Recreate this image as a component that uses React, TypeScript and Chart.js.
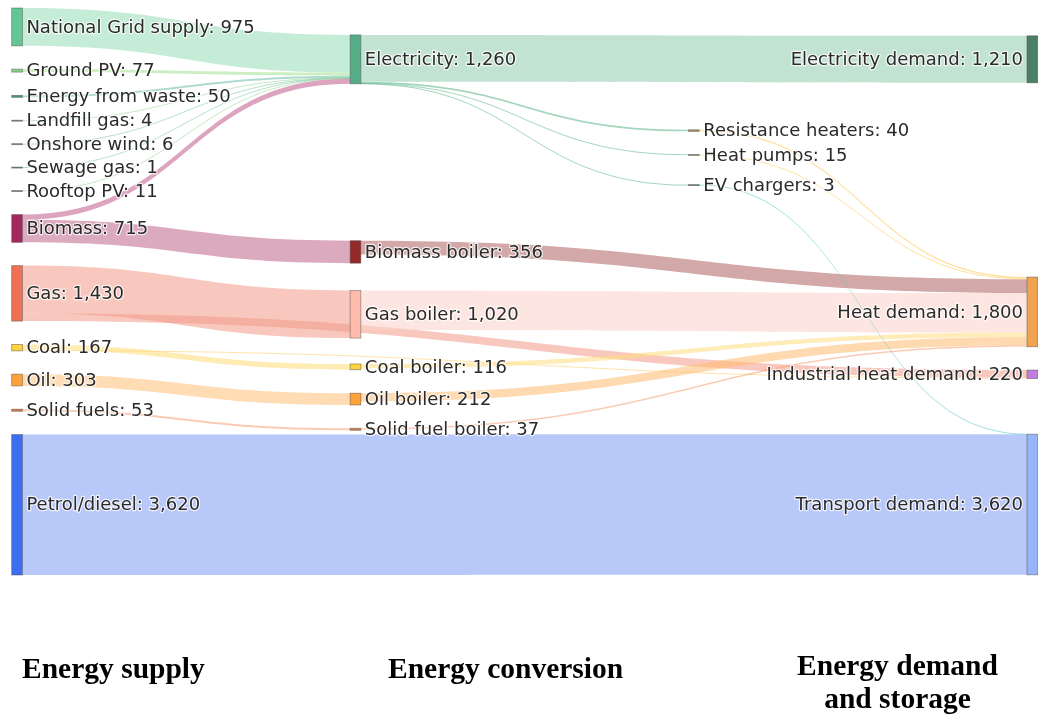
import React, { useEffect, useRef } from "react";
import { Chart, registerables } from "chart.js";

Chart.register(...registerables);

// ---------- DATA ----------
const nodeNames = [
  "National Grid supply", "Ground PV", "Energy from waste", "Landfill gas", "Onshore wind",
  "Sewage gas", "Rooftop PV", "Biomass", "Gas", "Coal", "Oil", "Solid fuels", "Petrol/diesel",
  "Electricity", "Biomass boiler", "Gas boiler", "Coal boiler", "Oil boiler", "Solid fuel boiler",
  "Resistance heaters", "Heat pumps", "EV chargers",
  "Electricity demand", "Heat demand", "Industrial heat demand", "Transport demand",
];

const nodeDisplayValues = [
  975, 77, 50, 4, 6, 1, 11, 715, 1430, 167, 303, 53, 3620,
  1260, 356, 1020, 116, 212, 37,
  40, 15, 3,
  1210, 1800, 220, 3620,
];

const nodeColors = [
  "#62c794", "#8cd484", "#4f9c7c", "#8a8a8a", "#8a8a8a", "#8a8a8a", "#8a8a8a",
  "#a3285c", "#ee7155", "#ffd33d", "#ffa23a", "#e07b3f", "#3b6ef0",
  "#55ad85", "#932a2a", "#ffbcad", "#ffd33d", "#ffa23a", "#d9824a",
  "#a89050", "#a09a88", "#6f7f7f",
  "#4b7f66", "#f0a452", "#c07ee0", "#98b4fb",
];

const linkSources = [0, 1, 2, 3, 4, 5, 6, 7, 7, 8, 8, 9, 9, 10, 11, 12, 13, 13, 13, 13, 14, 15, 16, 17, 18, 19, 20, 21];
const linkTargets = [13, 13, 13, 13, 13, 13, 13, 13, 14, 15, 24, 16, 24, 17, 18, 25, 22, 19, 20, 21, 23, 23, 23, 23, 23, 23, 23, 25];
const linkValues = [975, 77, 50, 4, 6, 1, 11, 136, 579, 1230, 200, 147, 20, 303, 53, 3620, 1210, 40, 5, 3, 356, 1020, 116, 212, 37, 40, 15, 3];
const linkColors = [
  "rgba(150,220,180,0.55)", "rgba(160,225,140,0.55)", "rgba(110,190,165,0.55)", "rgba(150,215,150,0.55)",
  "rgba(120,200,170,0.55)", "rgba(120,200,170,0.55)", "rgba(150,215,150,0.55)",
  "rgba(191,90,137,0.55)", "rgba(191,100,137,0.55)",
  "rgba(242,155,137,0.55)", "rgba(242,155,137,0.55)",
  "rgba(255,220,119,0.55)", "rgba(255,205,100,0.55)",
  "rgba(255,191,119,0.55)", "rgba(245,160,115,0.55)",
  "rgba(126,155,242,0.55)",
  "rgba(144,202,173,0.55)", "rgba(90,180,135,0.55)", "rgba(90,180,135,0.55)", "rgba(90,180,135,0.55)",
  "rgba(173,97,97,0.55)", "rgba(251,210,200,0.55)", "rgba(255,220,125,0.55)", "rgba(255,185,110,0.55)",
  "rgba(245,160,115,0.55)", "rgba(255,200,90,0.55)", "rgba(255,200,90,0.55)", "rgba(80,200,200,0.55)",
];

const stageTitles = ["Energy supply", "Energy conversion", "Energy demand\nand storage"];

// ---------- LAYOUT CONSTANTS ----------
const NODE_WIDTH_PX = 10.7;
const NODE_PAD = 600; // padding between nodes, in flow units
const ITERATIONS = 50;

type SNode = {
  index: number; sourceLinks: SLink[]; targetLinks: SLink[]; value: number;
  depth: number; column: number; y0: number; y1: number;
};
type SLink = { index: number; source: SNode; target: SNode; value: number; width: number; y0: number; y1: number };

function fmt(v: number) {
  return String(v).replace(/\B(?=(\d{3})+(?!\d))/g, ",");
}

// sankey layout (d3-sankey style relaxation), node order kept per column
function sankeyLayout() {
  const nodes: SNode[] = nodeNames.map((_, i) => ({
    index: i, sourceLinks: [], targetLinks: [], value: 0, depth: 0, column: 0, y0: 0, y1: 0,
  }));
  const links: SLink[] = linkSources.map((s, i) => ({
    index: i, source: nodes[s], target: nodes[linkTargets[i]], value: linkValues[i], width: linkValues[i], y0: 0, y1: 0,
  }));
  links.forEach((l) => { l.source.sourceLinks.push(l); l.target.targetLinks.push(l); });
  const sumV = (arr: SLink[]) => arr.reduce((a, l) => a + l.value, 0);
  nodes.forEach((n) => { n.value = Math.max(sumV(n.sourceLinks), sumV(n.targetLinks)); });

  let current = nodes.slice();
  let x = 0;
  while (current.length) {
    const next: SNode[] = [];
    current.forEach((n) => {
      n.depth = x;
      n.sourceLinks.forEach((l) => { if (next.indexOf(l.target) < 0) next.push(l.target); });
    });
    current = next;
    x++;
  }
  const nCols = x;
  nodes.forEach((n) => { n.column = n.sourceLinks.length ? n.depth : nCols - 1; });
  const columns: SNode[][] = [];
  for (let c = 0; c < nCols; c++) columns.push(nodes.filter((n) => n.column === c));
  const extent = Math.max(...columns.map((col) => col.reduce((a, n) => a + n.value, 0) + (col.length - 1) * NODE_PAD));

  const center = (n: SNode) => (n.y0 + n.y1) / 2;
  columns.forEach((col) => col.forEach((n, i) => { n.y0 = i; n.y1 = i + n.value; }));

  const resolve = () => {
    columns.forEach((col) => {
      let y = 0;
      let node: SNode = col[0];
      for (let i = 0; i < col.length; i++) {
        node = col[i];
        const dy = y - node.y0;
        if (dy > 0) { node.y0 += dy; node.y1 += dy; }
        y = node.y1 + NODE_PAD;
      }
      let dy = y - NODE_PAD - extent;
      if (dy > 0) {
        node.y0 -= dy; node.y1 -= dy;
        y = node.y0;
        for (let i = col.length - 2; i >= 0; i--) {
          const nd = col[i];
          dy = nd.y1 + NODE_PAD - y;
          if (dy > 0) { nd.y0 -= dy; nd.y1 -= dy; }
          y = nd.y0;
        }
      }
    });
  };
  const relaxLR = (alpha: number) => {
    columns.forEach((col) => col.forEach((n) => {
      if (n.targetLinks.length) {
        const dy = (n.targetLinks.reduce((a, l) => a + center(l.source) * l.value, 0) / sumV(n.targetLinks) - center(n)) * alpha;
        n.y0 += dy; n.y1 += dy;
      }
    }));
  };
  const relaxRL = (alpha: number) => {
    columns.slice().reverse().forEach((col) => col.forEach((n) => {
      if (n.sourceLinks.length) {
        const dy = (n.sourceLinks.reduce((a, l) => a + center(l.target) * l.value, 0) / sumV(n.sourceLinks) - center(n)) * alpha;
        n.y0 += dy; n.y1 += dy;
      }
    }));
  };

  resolve();
  let alpha = 1;
  for (let k = ITERATIONS; k > 0; k--) {
    alpha *= 0.99;
    relaxRL(alpha); resolve();
    relaxLR(alpha); resolve();
  }

  nodes.forEach((n) => {
    n.sourceLinks.sort((a, b) => a.target.y0 - b.target.y0);
    n.targetLinks.sort((a, b) => a.source.y0 - b.source.y0);
  });
  nodes.forEach((n) => {
    let y0 = n.y0, y1 = n.y0;
    n.sourceLinks.forEach((l) => { l.y0 = y0 + l.width / 2; y0 += l.width; });
    n.targetLinks.forEach((l) => { l.y1 = y1 + l.width / 2; y1 += l.width; });
  });
  return { nodes, links, nCols, extent };
}

export default function App() {
  const ref = useRef<HTMLCanvasElement>(null);

  useEffect(() => {
    const { nodes, links, nCols, extent } = sankeyLayout();

    const sankeyPlugin = {
      id: "sankeyDraw",
      afterDraw(chart: any) {
        const ctx: CanvasRenderingContext2D = chart.ctx;
        const xs = chart.scales.x;
        const ys = chart.scales.y;
        ctx.save();
        links.forEach((l) => {
          const x0 = xs.getPixelForValue(l.source.column) + NODE_WIDTH_PX;
          const x1 = xs.getPixelForValue(l.target.column);
          const xm = (x0 + x1) / 2;
          const c0 = ys.getPixelForValue(l.y0);
          const c1 = ys.getPixelForValue(l.y1);
          let w = Math.abs(ys.getPixelForValue(l.width) - ys.getPixelForValue(0));
          if (w < 1) w = 1;
          const a0 = c0 - w / 2, b0 = c0 + w / 2, a1 = c1 - w / 2, b1 = c1 + w / 2;
          ctx.beginPath();
          ctx.moveTo(x0, a0);
          ctx.bezierCurveTo(xm, a0, xm, a1, x1, a1);
          ctx.lineTo(x1, b1);
          ctx.bezierCurveTo(xm, b1, xm, b0, x0, b0);
          ctx.closePath();
          ctx.fillStyle = linkColors[l.index];
          ctx.fill();
        });
        nodes.forEach((n) => {
          const x0 = xs.getPixelForValue(n.column);
          let top = ys.getPixelForValue(n.y0);
          let bot = ys.getPixelForValue(n.y1);
          if (bot - top < 1) { const m = (top + bot) / 2; top = m - 0.5; bot = m + 0.5; }
          ctx.fillStyle = nodeColors[n.index];
          ctx.fillRect(x0, top, NODE_WIDTH_PX, bot - top);
          ctx.strokeStyle = "rgba(68,68,68,0.55)";
          ctx.lineWidth = 0.8;
          ctx.strokeRect(x0, top, NODE_WIDTH_PX, bot - top);
        });
        ctx.font = '18px "DejaVu Sans"';
        ctx.textBaseline = "middle";
        ctx.lineJoin = "round";
        nodes.forEach((n) => {
          const text = `${nodeNames[n.index]}: ${fmt(nodeDisplayValues[n.index])}`;
          const x0 = xs.getPixelForValue(n.column);
          const cy = (ys.getPixelForValue(n.y0) + ys.getPixelForValue(n.y1)) / 2 + 1;
          let tx: number;
          if (n.column === nCols - 1) { ctx.textAlign = "right"; tx = x0 - 4; }
          else { ctx.textAlign = "left"; tx = x0 + NODE_WIDTH_PX + 4; }
          ctx.strokeStyle = "rgba(255,255,255,0.75)";
          ctx.lineWidth = 2.5;
          ctx.strokeText(text, tx, cy);
          ctx.fillStyle = "#2a2a2a";
          ctx.fillText(text, tx, cy);
        });
        ctx.restore();
      },
    };

    const chart = new Chart(ref.current as HTMLCanvasElement, {
      type: "scatter",
      data: { datasets: [] },
      options: {
        animation: false,
        responsive: true,
        maintainAspectRatio: false,
        events: [],
        layout: { padding: { left: 11.7, right: 11, top: 8, bottom: 141 } },
        plugins: { legend: { display: false }, tooltip: { enabled: false } },
        scales: {
          x: { type: "linear", min: 0, max: nCols - 1, display: false },
          y: { type: "linear", min: 0, max: extent, reverse: true, display: false },
        },
      },
      plugins: [sankeyPlugin],
    } as any);
    return () => chart.destroy();
  }, []);

  const titleFont: React.CSSProperties = {
    position: "absolute",
    fontFamily: '"Liberation Serif", "Times New Roman", serif',
    fontWeight: "bold",
    fontSize: "29.5px",
    color: "#000",
    whiteSpace: "pre",
    lineHeight: "33px",
  };

  return (
    <div style={{ position: "fixed", left: 0, top: 0, width: 1038, height: 716, background: "#fff", overflow: "hidden" }}>
      <canvas ref={ref} />
      <div style={{ ...titleFont, left: 22, top: 652 }}>{stageTitles[0]}</div>
      <div style={{ ...titleFont, left: 388, top: 652 }}>{stageTitles[1]}</div>
      <div style={{ ...titleFont, left: 697.5, width: 400, textAlign: "center", top: 649 }}>{stageTitles[2]}</div>
    </div>
  );
}
